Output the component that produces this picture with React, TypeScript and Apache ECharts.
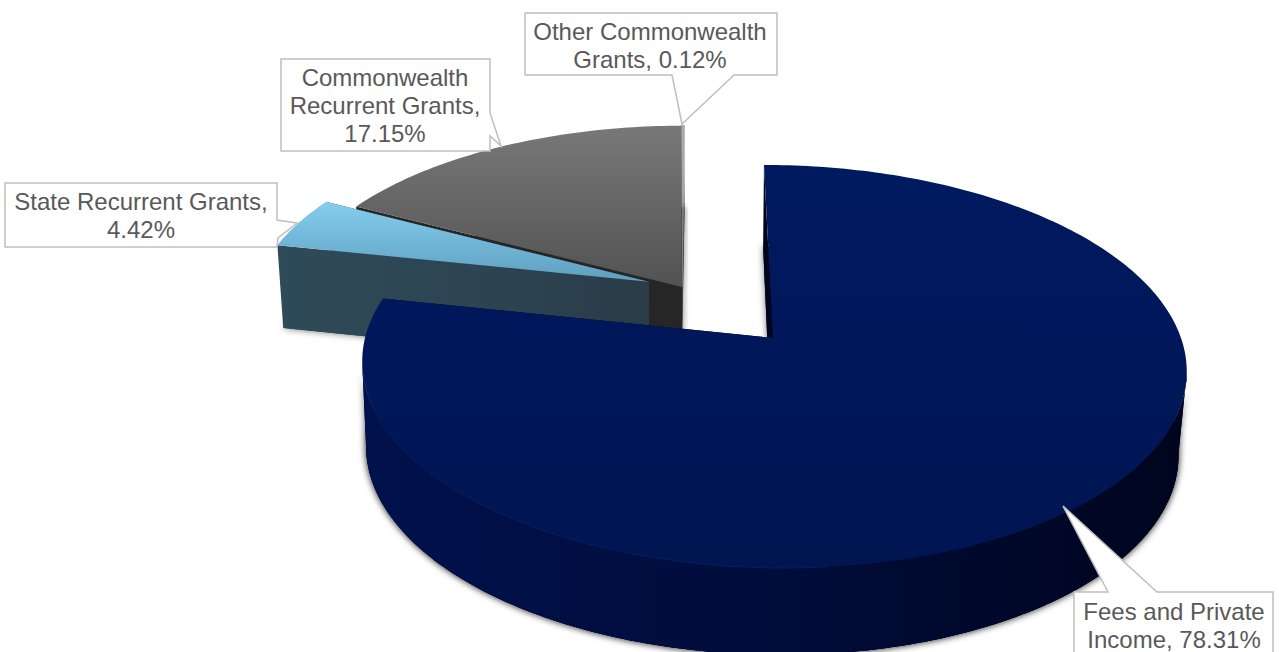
import React, { useEffect, useRef } from "react";
import * as echarts from "echarts";

// Funding sources, clockwise from twelve o'clock
const categories = [
  "Fees and Private\nIncome",
  "State Recurrent Grants",
  "Commonwealth\nRecurrent Grants",
  "Other Commonwealth\nGrants",
];
const shares = [78.31, 4.42, 17.15, 0.12];
const labelJoins = [", ", ",\n", ",\n", ", "];

// Explosion of each slice in disc units (x right, y away from the viewer)
const sliceOffsetX = [0, -0.31, -0.225, -0.225];
const sliceOffsetY = [0, 0.297, 0.268, 0.268];

const topStops = [
  ["#001a60", "#001552"],
  ["#84cdee", "#5f9fc0"],
  ["#787878", "#525252"],
  ["#b0b0b0", "#a0a0a0"],
];
const wallStops = [
  ["#00114c", "#000c3a", "#00051e"],
  ["#2f4a58", "#2d4552", "#293c48"],
  ["#262626", "#262626", "#262626"],
  ["#555555", "#555555", "#555555"],
];

// Perspective planes holding the top and bottom faces of the disc
const topPlane = { cx: 773, cy: 338, a: 408, b: 197.5, c: -10.3, k: 0.1414 };
const basePlane = { cx: 771, cy: 422, a: 402, b: 200, c: -9, k: 0.1414 };

type Plane = typeof topPlane;

const project = (p: Plane, x: number, y: number) => {
  const d = 1 + p.k * y;
  return [p.cx + (p.a * x + p.c * y) / d, p.cy - (p.b * y) / d];
};

const rimPoints = (p: Plane, from: number, to: number, ox: number, oy: number) => {
  const steps = Math.max(2, Math.ceil(to - from));
  const pts: number[][] = [];
  for (let i = 0; i <= steps; i++) {
    const t = ((from + ((to - from) * i) / steps) * Math.PI) / 180;
    pts.push(project(p, ox + Math.sin(t), oy + Math.cos(t)));
  }
  return pts;
};

// Stretch of a rim between its rightmost and leftmost points, walked clockwise
const frontStretch = (rim: number[][]) => {
  let right = 0;
  let left = 0;
  rim.forEach((pt, i) => {
    if (pt[0] > rim[right][0]) right = i;
    if (pt[0] < rim[left][0]) left = i;
  });
  return rim.slice(Math.min(right, left), Math.max(right, left) + 1);
};

const vertical = (stops: string[]) => ({
  type: "linear",
  x: 0,
  y: 0,
  x2: 0,
  y2: 1,
  colorStops: stops.map((color, i) => ({ offset: i / (stops.length - 1), color })),
});
const horizontal = (stops: string[]) => ({
  type: "linear",
  x: 0,
  y: 0,
  x2: 1,
  y2: 0,
  colorStops: stops.map((color, i) => ({ offset: i / (stops.length - 1), color })),
});

const softShadow = { shadowBlur: 7, shadowColor: "rgba(0,0,0,0.55)" };

const renderSlice = (_params: any, api: any) => {
  const index = api.value(0);
  const total = shares.reduce((s, v) => s + v, 0);
  const before = shares.slice(0, index).reduce((s, v) => s + v, 0);
  const from = (before / total) * 360;
  const to = from + (api.value(1) / total) * 360;
  const ox = sliceOffsetX[index];
  const oy = sliceOffsetY[index];

  const topRim = rimPoints(topPlane, from, to, ox, oy);
  const baseRim = rimPoints(basePlane, from, to, ox, oy);
  const topApex = project(topPlane, ox, oy);
  const baseApex = project(basePlane, ox, oy);
  const wallFill = horizontal(wallStops[index]);
  const edgeFill = wallStops[index][index === 0 ? 2 : 1];
  const facesViewer = from < 270 && to > 90;

  const children: any[] = [
    {
      type: "polygon",
      shape: { points: [baseApex, ...baseRim] },
      style: { fill: edgeFill, ...softShadow },
    },
    {
      type: "polygon",
      shape: {
        points: [topApex, topRim[topRim.length - 1], baseRim[baseRim.length - 1], baseApex],
      },
      style: { fill: edgeFill },
    },
  ];
  if (facesViewer) {
    // Outer wall, closed by straight silhouette edges between the two rims;
    // a flat copy underneath carries the shadow so the gradient stays untouched
    const wallPoints = [...frontStretch(topRim), ...frontStretch(baseRim).reverse()];
    children.push(
      {
        type: "polygon",
        shape: { points: wallPoints },
        style: { fill: edgeFill, ...softShadow },
      },
      {
        type: "polygon",
        shape: { points: wallPoints },
        style: { fill: wallFill },
      }
    );
  }
  children.push(
    {
      type: "polygon",
      shape: { points: [topApex, topRim[0], baseRim[0], baseApex] },
      style: { fill: index === 1 ? wallFill : edgeFill },
    },
    {
      type: "polygon",
      shape: { points: [topApex, ...topRim] },
      style: {
        fill: vertical(topStops[index]),
        stroke: index === 3 ? "#a8a8a8" : undefined,
        lineWidth: index === 3 ? 1.5 : 0,
      },
    }
  );
  if (index === 0) {
    // Faint light catching the front-left edge of the largest slice
    children.push({
      type: "polyline",
      shape: { points: rimPoints(topPlane, 175, 262, ox, oy) },
      style: { stroke: "#0c2c80", lineWidth: 1, fill: "none", opacity: 0.5 },
    });
  }
  return { type: "group", children };
};

// Callout outlines, one per slice: box with a tail reaching its slice
const calloutOutlines = [
  [[1074, 592], [1108, 592], [1063, 506], [1157, 592], [1273, 592], [1273, 660], [1074, 660]],
  [[5, 183], [277, 183], [277, 220], [297, 223], [278, 238], [277, 247], [5, 247]],
  [[281, 59], [490, 59], [490, 113], [501, 146], [490, 136], [490, 151], [281, 151]],
  [[525, 13], [777, 13], [777, 75], [734, 75], [682, 124], [672, 75], [525, 75]],
];
const calloutCentres = [
  [1174, 625],
  [141, 215],
  [385, 105.5],
  [650, 45],
];

export default function App() {
  const ref = useRef<HTMLDivElement>(null);

  useEffect(() => {
    const chart = echarts.init(ref.current!, null, { renderer: "svg" });
    const graphics: any[] = [];
    categories.forEach((name, i) => {
      graphics.push({
        type: "polygon",
        z: 10,
        shape: { points: calloutOutlines[i] },
        style: { fill: "#ffffff", stroke: "#bfbfbf", lineWidth: 1.5 },
      });
      graphics.push({
        type: "text",
        z: 11,
        style: {
          x: calloutCentres[i][0],
          y: calloutCentres[i][1],
          text: `${name}${labelJoins[i]}${shares[i].toFixed(2)}%`,
          align: "center",
          verticalAlign: "middle",
          fill: "#595959",
          font: '24px "Liberation Sans", Arial, sans-serif',
          lineHeight: 28,
        },
      });
    });

    chart.setOption({
      animation: false,
      backgroundColor: "#ffffff",
      tooltip: { show: false },
      series: [
        {
          type: "custom",
          coordinateSystem: "none",
          silent: true,
          renderItem: renderSlice,
          // Painted back to front: the last slice clockwise sits furthest away
          data: shares.map((value, i) => [i, value]).reverse(),
        },
      ],
      graphic: { elements: graphics },
    });
    return () => chart.dispose();
  }, []);

  return (
    <div
      ref={ref}
      style={{ position: "absolute", left: 0, top: 0, width: 1279, height: 652, overflow: "hidden" }}
    />
  );
}
